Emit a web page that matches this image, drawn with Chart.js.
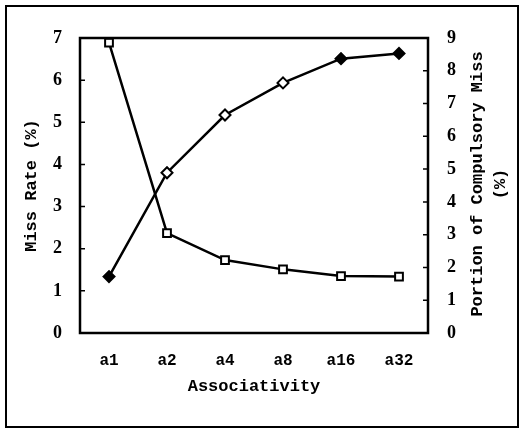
<!DOCTYPE html>
<html>
<head>
<meta charset="utf-8">
<script src="https://cdn.jsdelivr.net/npm/chart.js@4/dist/chart.umd.min.js"></script>
<style>
  html, body { margin: 0; padding: 0; background: #fff; }
  canvas { display: block; }
</style>
</head>
<body>
<canvas id="assocChart" width="524" height="430"></canvas>
<script>
const categories = ["a1", "a2", "a4", "a8", "a16", "a32"];
// miss rate (%), left axis
const missRate = [6.89, 2.37, 1.73, 1.51, 1.35, 1.34];
// portion of compulsory miss (%), right axis
const compulsoryPortion = [1.72, 4.89, 6.65, 7.63, 8.37, 8.53];
const leftTicks = [0, 1, 2, 3, 4, 5, 6, 7];
const rightTicks = [0, 1, 2, 3, 4, 5, 6, 7, 8, 9];

const monoFont = "'Liberation Mono', 'DejaVu Sans Mono', monospace";
const serifFont = "'Liberation Serif', 'DejaVu Serif', serif";

// plot box, inward tick marks, outer frame and right-hand title
const framePlugin = {
  id: "frame",
  afterDraw(chart) {
    const { ctx, chartArea: a, scales } = chart;
    ctx.save();
    ctx.strokeStyle = "#000";
    ctx.lineWidth = 2.5;
    ctx.strokeRect(a.left, a.top, a.right - a.left, a.bottom - a.top);

    ctx.lineWidth = 1.5;
    ctx.beginPath();
    scales.y.ticks.forEach((t) => {
      const py = scales.y.getPixelForValue(t.value);
      ctx.moveTo(a.left, py);
      ctx.lineTo(a.left + 5, py);
    });
    scales.y1.ticks.forEach((t) => {
      const py = scales.y1.getPixelForValue(t.value);
      ctx.moveTo(a.right, py);
      ctx.lineTo(a.right - 5, py);
    });
    ctx.stroke();

    ctx.lineWidth = 2;
    ctx.strokeRect(6, 6, 512, 421);

    ctx.fillStyle = "#000";
    ctx.font = "bold 17px " + monoFont;
    ctx.textAlign = "center";
    ctx.textBaseline = "middle";
    ctx.translate(478, 184);
    ctx.rotate(-Math.PI / 2);
    ctx.fillText("Portion of Compulsory Miss", 0, 0);
    ctx.fillText("(%)", 0, 23);
    ctx.restore();
  },
};

const ctx = document.getElementById("assocChart").getContext("2d");

new Chart(ctx, {
  type: "line",
  data: {
    labels: categories,
    datasets: [
      {
        label: "Miss Rate",
        data: missRate,
        yAxisID: "y",
        borderColor: "#000",
        borderWidth: 2.5,
        pointStyle: "rect",
        pointRadius: 5.5,
        pointBorderWidth: 2,
        pointBackgroundColor: "#fff",
        pointBorderColor: "#000",
        tension: 0,
      },
      {
        label: "Portion of Compulsory Miss",
        data: compulsoryPortion,
        yAxisID: "y1",
        borderColor: "#000",
        borderWidth: 2.5,
        pointStyle: "rectRot",
        pointRadius: 5.5,
        pointBorderWidth: 2,
        pointBackgroundColor: ["#000", "#fff", "#fff", "#fff", "#000", "#000"],
        pointBorderColor: "#000",
        tension: 0,
      },
    ],
  },
  options: {
    responsive: false,
    animation: false,
    layout: { padding: { top: 38, left: 0, right: 0, bottom: 0 } },
    plugins: {
      legend: { display: false },
      tooltip: { enabled: false },
    },
    scales: {
      x: {
        type: "category",
        offset: true,
        grid: { display: false, drawTicks: false },
        border: { display: false },
        ticks: {
          color: "#000",
          padding: 18,
          font: { family: monoFont, size: 16, weight: "bold" },
        },
        title: {
          display: true,
          text: "Associativity",
          color: "#000",
          padding: { top: 0, bottom: 33 },
          font: { family: monoFont, size: 17, weight: "bold" },
        },
        afterFit: (s) => { s.height = 97; },
      },
      y: {
        position: "left",
        min: 0,
        max: 7,
        afterBuildTicks: (s) => { s.ticks = leftTicks.map((v) => ({ value: v })); },
        grid: { display: false, drawTicks: false },
        border: { display: false },
        ticks: {
          color: "#000",
          padding: 18,
          font: { family: serifFont, size: 18, weight: "bold" },
        },
        title: {
          display: true,
          text: "Miss Rate (%)",
          color: "#000",
          padding: { top: 22, bottom: 0 },
          font: { family: monoFont, size: 17, weight: "bold" },
        },
        afterFit: (s) => { s.width = 80; },
      },
      y1: {
        position: "right",
        min: 0,
        max: 9,
        afterBuildTicks: (s) => { s.ticks = rightTicks.map((v) => ({ value: v })); },
        grid: { display: false, drawTicks: false },
        border: { display: false },
        ticks: {
          color: "#000",
          padding: 19,
          font: { family: serifFont, size: 18, weight: "bold" },
        },
        afterFit: (s) => { s.width = 96; },
      },
    },
  },
  plugins: [framePlugin],
});
</script>
</body>
</html>
